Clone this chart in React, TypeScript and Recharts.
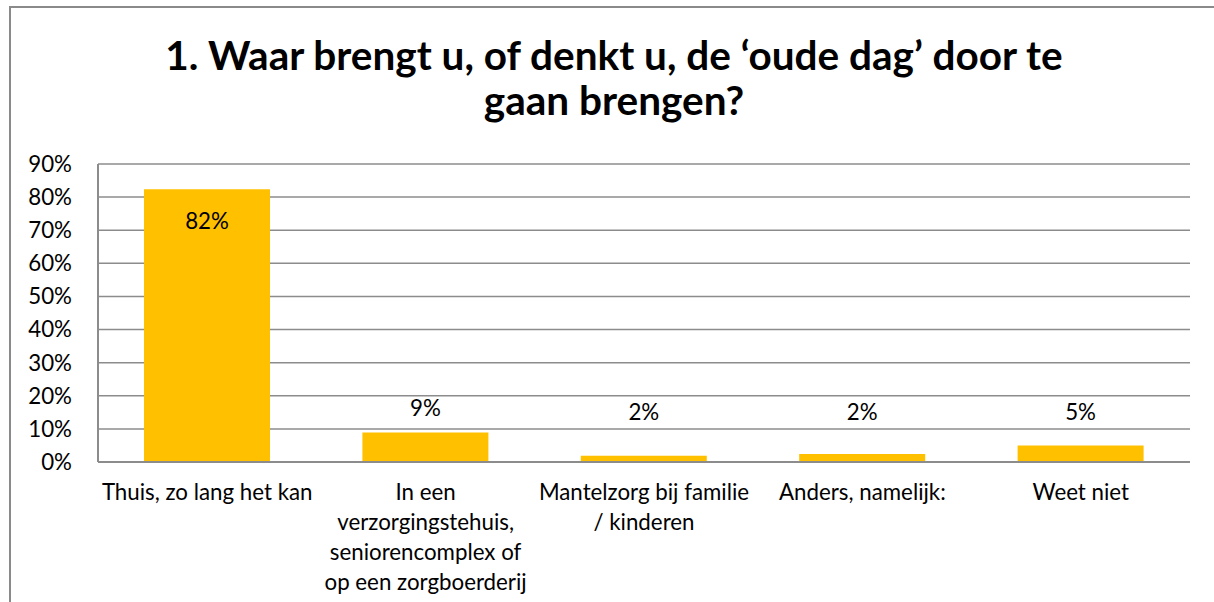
import { BarChart, Bar, XAxis, YAxis, CartesianGrid, LabelList } from 'recharts';

const categories = [
  'Thuis, zo lang het kan',
  'In een\nverzorgingstehuis,\nseniorencomplex of\nop een zorgboerderij',
  'Mantelzorg bij familie\n/ kinderen',
  'Anders, namelijk:',
  'Weet niet',
];
const shares = [0.824, 0.089, 0.019, 0.024, 0.05];
const yTicks = [0, 0.1, 0.2, 0.3, 0.4, 0.5, 0.6, 0.7, 0.8, 0.9];
const titleLines = ['1. Waar brengt u, of denkt u, de ‘oude dag’ door te', 'gaan brengen?'];

const FONT = 'Lato, Carlito, Calibri, sans-serif';
const FS = 22.3;

const data = categories.map((name, i) => ({ name, value: shares[i] }));

const pct = (v: number) => `${Math.round(v * 100)}%`;

// category labels are split on \n, like the wrapped Excel labels
const CategoryTick = (props: any) => {
  const { x, y, payload } = props;
  const lines = String(payload.value).split('\n');
  return (
    <text x={x} y={y} textAnchor="middle" fontFamily={FONT} fontSize={FS} fill="#000">
      {lines.map((l, i) => (
        <tspan key={i} x={x} dy={30}>
          {l}
        </tspan>
      ))}
    </text>
  );
};

// big bar gets its label inside, the small ones sit on the 15% level
const ValueLabel = (props: any) => {
  const { x, y, width, height, value } = props;
  const cx = x + width / 2;
  let cy: number;
  if (value > 0.5) {
    cy = y + 32;
  } else {
    const base = y + height;
    const perUnit = height / value;
    cy = Math.min(base - 0.15 * perUnit, y - 24);
  }
  return (
    <text x={cx} y={cy} dy="0.35em" textAnchor="middle" fontFamily={FONT} fontSize={FS} fill="#000">
      {pct(value)}
    </text>
  );
};

export default function App() {
  return (
    <div
      style={{
        position: 'fixed',
        left: 9,
        top: 6,
        width: 1215,
        height: 600,
        borderTop: '2px solid #8a8a8a',
        borderLeft: '2px solid #8a8a8a',
        boxSizing: 'border-box',
        background: '#fff',
        overflow: 'hidden',
      }}
    >
      <div
        style={{
          position: 'absolute',
          left: 0,
          top: 24,
          width: 1206,
          textAlign: 'center',
          fontFamily: FONT,
          fontWeight: 700,
          fontSize: 40.5,
          lineHeight: '45px',
          color: '#000',
        }}
      >
        {titleLines.map((t, i) => (
          <div key={i}>{t}</div>
        ))}
      </div>
      <BarChart
        width={1201}
        height={592}
        data={data}
        margin={{ top: 156, right: 22, left: 0, bottom: 0 }}
        barSize={126}
      >
        <CartesianGrid vertical={false} stroke="#8c8c8c" strokeWidth={1.5} />
        <XAxis
          dataKey="name"
          height={138}
          tickLine={false}
          axisLine={{ stroke: '#8c8c8c', strokeWidth: 2 }}
          tick={<CategoryTick />}
          interval={0}
        />
        <YAxis
          width={87}
          domain={[0, 0.9]}
          ticks={yTicks}
          tickFormatter={pct}
          tickLine={false}
          tickSize={0}
          tickMargin={26}
          axisLine={{ stroke: '#8c8c8c', strokeWidth: 2 }}
          tick={{ fontFamily: FONT, fontSize: FS, fill: '#000' }}
          interval={0}
        />
        <Bar dataKey="value" fill="#FFC000" isAnimationActive={false}>
          <LabelList dataKey="value" content={<ValueLabel />} />
        </Bar>
      </BarChart>
    </div>
  );
}
